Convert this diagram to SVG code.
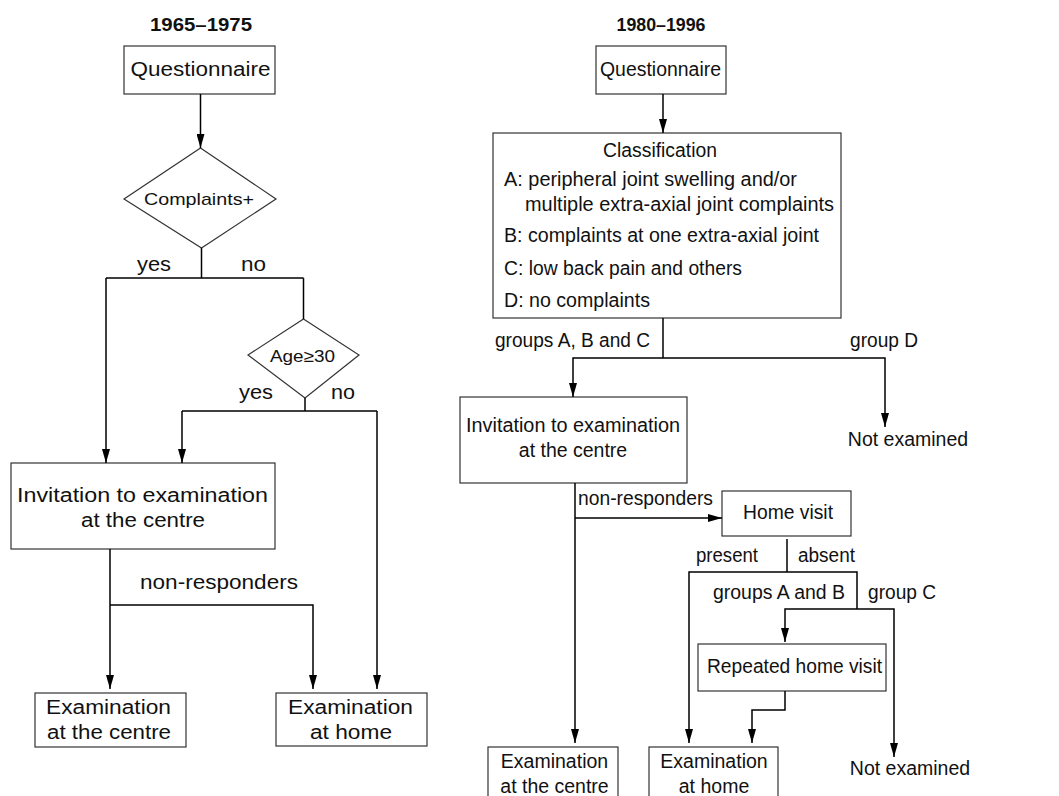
<svg xmlns="http://www.w3.org/2000/svg" width="1059" height="796" viewBox="0 0 1059 796">
<style>
  text { font-family: "Liberation Sans", Arial, sans-serif; fill: #111; }
  .t { font-size: 20px; }
  .r { font-size: 19.5px; }
  .s { font-size: 17px; }
  .h { font-size: 18.5px; font-weight: bold; }
  .m { text-anchor: middle; }
  .box { fill: #fff; stroke: #333; stroke-width: 1.2; }
  .ln { fill: none; stroke: #000; stroke-width: 1.5; }
  .ar { fill: none; stroke: #000; stroke-width: 1.5; marker-end: url(#ah); }
</style>
<defs>
  <marker id="ah" markerUnits="userSpaceOnUse" markerWidth="14" markerHeight="8" refX="14" refY="4" orient="auto">
    <path d="M0,0 L14,4 L0,8 z" fill="#000"/>
  </marker>
</defs>
<rect width="1059" height="796" fill="#fff"/>

<!-- Left chart -->
<text id="title-left" class="h m" x="201" y="31" textLength="102" lengthAdjust="spacingAndGlyphs">1965–1975</text>
<g id="l-questionnaire">
  <rect class="box" x="124" y="46" width="151" height="48"/>
  <text class="t m" x="200.5" y="76" textLength="140" lengthAdjust="spacingAndGlyphs">Questionnaire</text>
</g>
<g id="l-complaints">
  <polygon class="box" points="200.5,148 276,199 201.5,248 124,199"/>
  <text class="s m" x="199" y="205" textLength="110" lengthAdjust="spacingAndGlyphs">Complaints+</text>
</g>
<g id="l-age">
  <polygon class="box" points="303.5,319 359,355 305,398 248,355"/>
  <text class="s m" x="302.5" y="362" textLength="65" lengthAdjust="spacingAndGlyphs">Age≥30</text>
</g>
<g id="l-invitation">
  <rect class="box" x="11" y="463" width="264" height="86"/>
  <text class="t m" x="142.5" y="502" textLength="251" lengthAdjust="spacingAndGlyphs">Invitation to examination</text>
  <text class="t m" x="143" y="527" textLength="124" lengthAdjust="spacingAndGlyphs">at the centre</text>
</g>
<g id="l-exam-centre">
  <rect class="box" x="35" y="693" width="151" height="54"/>
  <text class="t m" x="108.5" y="714" textLength="125" lengthAdjust="spacingAndGlyphs">Examination</text>
  <text class="t m" x="109" y="739" textLength="124" lengthAdjust="spacingAndGlyphs">at the centre</text>
</g>
<g id="l-exam-home">
  <rect class="box" x="276" y="693" width="151" height="53"/>
  <text class="t m" x="350.5" y="714" textLength="125" lengthAdjust="spacingAndGlyphs">Examination</text>
  <text class="t m" x="351" y="739" textLength="82" lengthAdjust="spacingAndGlyphs">at home</text>
</g>

<!-- Right chart -->
<text id="title-right" class="h m" x="661" y="31" textLength="89" lengthAdjust="spacingAndGlyphs">1980–1996</text>
<g id="r-questionnaire">
  <rect class="box" x="596" y="46" width="130" height="48"/>
  <text class="r m" x="660.5" y="76" textLength="121" lengthAdjust="spacingAndGlyphs">Questionnaire</text>
</g>
<g id="r-classification">
  <rect class="box" x="493" y="133" width="348" height="185"/>
  <text class="r m" x="660" y="157" textLength="114" lengthAdjust="spacingAndGlyphs">Classification</text>
  <text class="r" x="504" y="186" textLength="293" lengthAdjust="spacingAndGlyphs">A: peripheral joint swelling and/or</text>
  <text class="r" x="525" y="210.5" textLength="309" lengthAdjust="spacingAndGlyphs">multiple extra-axial joint complaints</text>
  <text class="r" x="504" y="241.5" textLength="315" lengthAdjust="spacingAndGlyphs">B: complaints at one extra-axial joint</text>
  <text class="r" x="504" y="275" textLength="238" lengthAdjust="spacingAndGlyphs">C: low back pain and others</text>
  <text class="r" x="504" y="307" textLength="146" lengthAdjust="spacingAndGlyphs">D: no complaints</text>
</g>
<g id="r-invitation">
  <rect class="box" x="460" y="397" width="227" height="86"/>
  <text class="r m" x="573" y="431.5" textLength="214" lengthAdjust="spacingAndGlyphs">Invitation to examination</text>
  <text class="r m" x="573" y="456.5">at the centre</text>
</g>
<g id="r-not-examined-1">
  <text class="r m" x="908" y="446">Not examined</text>
</g>
<g id="r-home-visit">
  <rect class="box" x="722" y="491" width="129" height="45"/>
  <text class="r m" x="788" y="519" textLength="90" lengthAdjust="spacingAndGlyphs">Home visit</text>
</g>
<g id="r-repeated">
  <rect class="box" x="698" y="644" width="188" height="47"/>
  <text class="r m" x="794.5" y="672.5" textLength="175" lengthAdjust="spacingAndGlyphs">Repeated home visit</text>
</g>
<g id="r-not-examined-2">
  <text class="r m" x="910" y="775">Not examined</text>
</g>
<g id="r-exam-centre">
  <rect class="box" x="488" y="747" width="130" height="56"/>
  <text class="r m" x="554.5" y="767.5">Examination</text>
  <text class="r m" x="554.5" y="792.5">at the centre</text>
</g>
<g id="r-exam-home">
  <rect class="box" x="649" y="747" width="129" height="56"/>
  <text class="r m" x="714" y="767.5">Examination</text>
  <text class="r m" x="714" y="792.5">at home</text>
</g>

<!-- Connectors -->
<g id="connectors">
  <!-- left -->
  <line class="ar" x1="200.5" y1="94" x2="200.5" y2="148"/>
  <line class="ln" x1="201.5" y1="248" x2="201.5" y2="278"/>
  <line class="ln" x1="106" y1="278" x2="303.5" y2="278"/>
  <line class="ar" x1="106" y1="278" x2="106" y2="463"/>
  <line class="ln" x1="303.5" y1="278" x2="303.5" y2="319"/>
  <line class="ln" x1="305" y1="398" x2="305" y2="411"/>
  <line class="ln" x1="182" y1="411" x2="377" y2="411"/>
  <line class="ar" x1="182" y1="411" x2="182" y2="463"/>
  <line class="ar" x1="377" y1="411" x2="377" y2="689"/>
  <line class="ar" x1="110" y1="549" x2="110" y2="689"/>
  <polyline class="ar" points="110,605 313,605 313,689"/>
  <!-- right -->
  <line class="ar" x1="663" y1="94" x2="663" y2="133"/>
  <line class="ln" x1="663" y1="318" x2="663" y2="358"/>
  <polyline class="ar" points="663,358 573,358 573,397"/>
  <polyline class="ar" points="663,358 885,358 885,427"/>
  <line class="ar" x1="575" y1="483" x2="575" y2="743"/>
  <line class="ar" x1="575" y1="518" x2="722" y2="518"/>
  <line class="ln" x1="787" y1="539" x2="787" y2="572"/>
  <polyline class="ar" points="787,572 689,572 689,743"/>
  <polyline class="ln" points="787,572 857,572 857,609"/>
  <polyline class="ar" points="857,609 785,609 785,642"/>
  <polyline class="ar" points="857,609 894,609 894,757"/>
  <polyline class="ar" points="785,691 785,710 752,710 752,743"/>
</g>

<!-- Connector labels -->
<g id="labels">
  <text class="t m" x="154" y="271" textLength="34" lengthAdjust="spacingAndGlyphs">yes</text>
  <text class="t m" x="253.5" y="271" textLength="25" lengthAdjust="spacingAndGlyphs">no</text>
  <text class="t m" x="256" y="399" textLength="34" lengthAdjust="spacingAndGlyphs">yes</text>
  <text class="t m" x="343" y="399" textLength="24" lengthAdjust="spacingAndGlyphs">no</text>
  <text class="t m" x="219" y="589" textLength="158" lengthAdjust="spacingAndGlyphs">non-responders</text>
  <text class="r m" x="572.5" y="346.5" textLength="155" lengthAdjust="spacingAndGlyphs">groups A, B and C</text>
  <text class="r m" x="884" y="346.5" textLength="68" lengthAdjust="spacingAndGlyphs">group D</text>
  <text class="r" x="578" y="505" textLength="135" lengthAdjust="spacingAndGlyphs">non-responders</text>
  <text class="r m" x="727" y="562" textLength="62" lengthAdjust="spacingAndGlyphs">present</text>
  <text class="r m" x="826.5" y="562" textLength="57" lengthAdjust="spacingAndGlyphs">absent</text>
  <text class="r m" x="779" y="599" textLength="132" lengthAdjust="spacingAndGlyphs">groups A and B</text>
  <text class="r m" x="902" y="599" textLength="68" lengthAdjust="spacingAndGlyphs">group C</text>
</g>
</svg>
